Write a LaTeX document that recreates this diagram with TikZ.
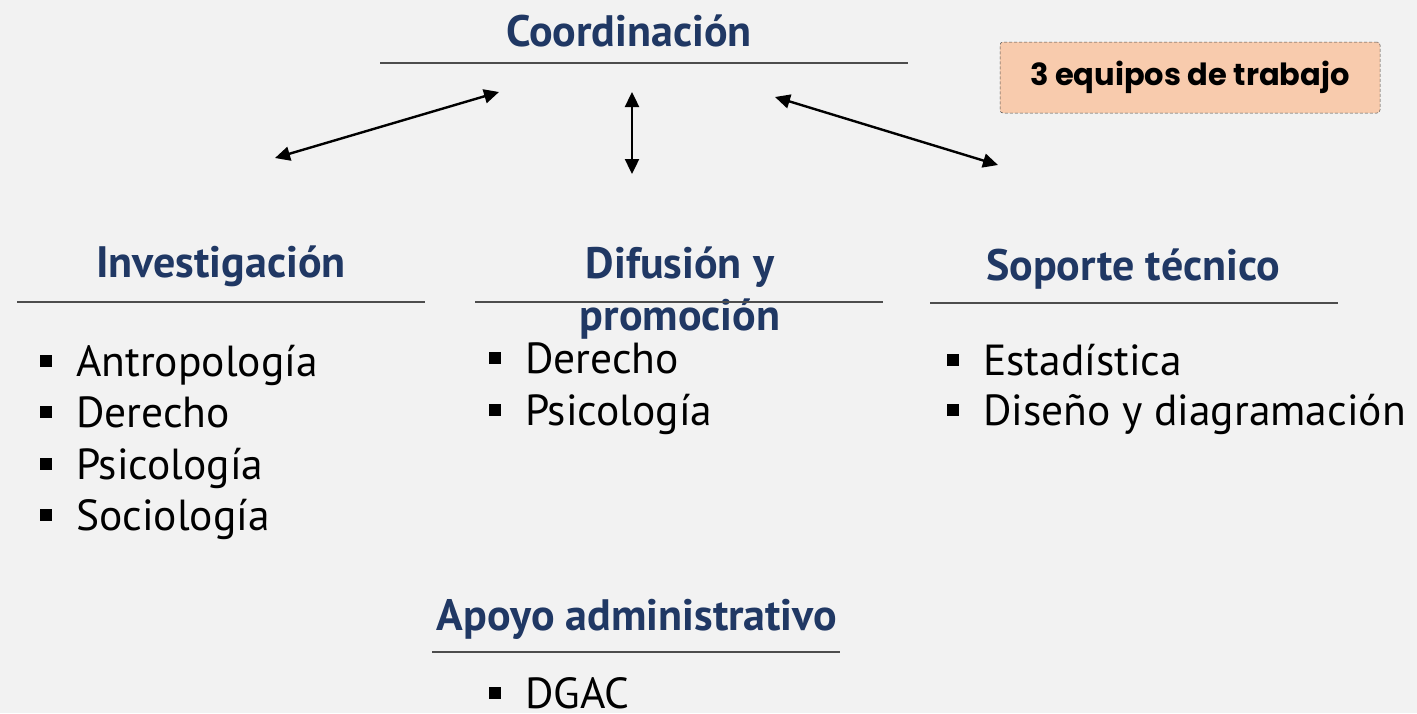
\documentclass[tikz,border=0pt]{standalone}
\usepackage{fontspec}
\setmainfont{PT Sans}
\newfontfamily\boxfont{Poppins}
\usetikzlibrary{arrows.meta}
\definecolor{navy}{HTML}{203864}
\definecolor{rulegray}{HTML}{4D4D4D}
\definecolor{peach}{HTML}{F8CBAD}
\definecolor{paper}{HTML}{F2F2F2}
\newcommand{\blt}{\rule[9pt]{12pt}{12pt}\hspace{24pt}}
\tikzset{
  heading/.style={font=\fontsize{44}{50}\selectfont\bfseries, text=navy, anchor=base, inner sep=0pt, align=center},
  item/.style={font=\fontsize{43.5}{50}\selectfont, anchor=base west, inner sep=0pt},
  hline/.style={draw=rulegray, line width=1.6pt},
  link/.style={{Triangle[length=15pt,width=14pt]}-{Triangle[length=15pt,width=14pt]}, line width=2.4pt, black}
}
\begin{document}
\begin{tikzpicture}[x=1pt, y=-1pt]
  \fill[paper] (0,0) rectangle (1417,713);
  \useasboundingbox (0,0) rectangle (1417,713);
  % heads
  \node[heading] (coord) at (629,46) {Coordinación};
  \node[heading] (inv) at (221,277) {Investigación};
  \node[heading] (dif) at (680,330) {Difusión y\\[2pt]promoción};
  \node[heading] (sop) at (1133,280) {Soporte técnico};
  \node[heading] (apo) at (637,630) {Apoyo administrativo};
  % rules
  \coordinate (c1) at (380,63);  \coordinate (c2) at (908,63);
  \coordinate (i1) at (17,302);  \coordinate (i2) at (425,302);
  \coordinate (d1) at (475,302); \coordinate (d2) at (883,302);
  \coordinate (s1) at (930,303); \coordinate (s2) at (1338,303);
  \coordinate (a1) at (432,652); \coordinate (a2) at (840,652);
  \draw[hline] (c1) -- (c2);
  \draw[hline] (i1) -- (i2);
  \draw[hline] (d1) -- (d2);
  \draw[hline] (s1) -- (s2);
  \draw[hline] (a1) -- (a2);
  % lists
  \node[item] (inv1) at (40,376) {\blt Antropología};
  \node[item] (inv2) at (40,427) {\blt Derecho};
  \node[item] (inv3) at (40,479) {\blt Psicología};
  \node[item] (inv4) at (40,530) {\blt Sociología};
  \node[item] (dif1) at (489,373) {\blt Derecho};
  \node[item] (dif2) at (489,425) {\blt Psicología};
  \node[item] (sop1) at (947,375) {\blt Estadística};
  \node[item] (sop2) at (947,425) {\blt Diseño y diagramación};
  \node[item] (apo1) at (489,708) {\blt DGAC};
  % note
  \node[draw=black!70, densely dashed, line width=0.5pt, fill=peach, rounded corners=3pt,
        minimum width=380pt, minimum height=71pt, inner sep=0pt,
        font=\boxfont\fontsize{30.5}{34}\selectfont\bfseries] (teams) at (1190,77.5) {3 equipos de trabajo};
  % arrows
  \coordinate (l1) at (275,158); \coordinate (l2) at (499,92);
  \coordinate (m1) at (632,92);  \coordinate (m2) at (632,174);
  \coordinate (r1) at (775,97);  \coordinate (r2) at (998,165);
  \draw[link] (l1) -- (l2);
  \draw[link] (m1) -- (m2);
  \draw[link] (r1) -- (r2);
\end{tikzpicture}
\end{document}
